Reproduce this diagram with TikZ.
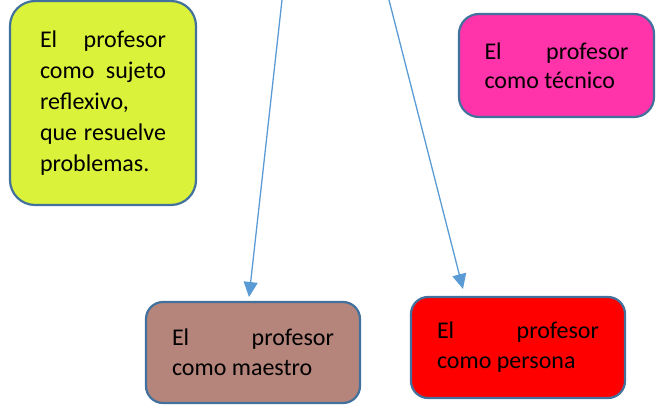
\documentclass[tikz,border=0pt]{standalone}
\usepackage{fontspec}
\setmainfont{Carlito}
\usetikzlibrary{positioning,arrows.meta}
\definecolor{borde}{HTML}{41719C}
\definecolor{flecha}{HTML}{5B9BD5}
\definecolor{verdelima}{RGB}{218,242,58}
\definecolor{rosa}{RGB}{255,51,170}
\definecolor{marron}{RGB}{181,132,122}

\begin{document}
\begin{tikzpicture}[x=1pt,y=-1pt,
						caja/.style={draw=borde,line width=2.2pt,rounded corners=17pt,inner sep=0pt,align=justify,font=\fontsize{24}{30}\selectfont},
						sujeto/.style={caja,fill=verdelima,rounded corners=25pt,minimum width=186pt,minimum height=204pt,text width=126pt,font=\fontsize{24}{31}\selectfont},
						tecnico/.style={caja,fill=rosa,rounded corners=20pt,minimum width=195pt,minimum height=103pt,text width=144pt,font=\fontsize{24}{29}\selectfont},
						maestro/.style={caja,fill=marron,minimum width=214pt,minimum height=101pt,text width=162pt},
						persona/.style={caja,fill=red,minimum width=214pt,minimum height=101pt,text width=162pt},
						conector/.style={draw=flecha,line width=1.3pt,-{Triangle[length=15pt,width=14pt]}}]
		\useasboundingbox (0,0) rectangle (660,407);

		\node[sujeto]	(reflexivo)	at (103,103)	{El profesor\linebreak como sujeto\linebreak reflexivo,\\ que resuelve\linebreak problemas.};
		\node[tecnico]	(tecnico)	at (556.5,65.5)	{El profesor\linebreak como técnico};
		\node[maestro]	(maestro)	at (253,352.5)	{El profesor\linebreak como maestro};
		\node[persona]	(persona)	at (518,347.5)	{El profesor\linebreak como persona};

		\coordinate (a1) at (282,0);
		\coordinate (b1) at (249,297);
		\coordinate (a2) at (389,0);
		\coordinate (b2) at (463,289);

		\draw[conector] (a1) -- (b1);
		\draw[conector] (a2) -- (b2);
	\end{tikzpicture}
\end{document}
